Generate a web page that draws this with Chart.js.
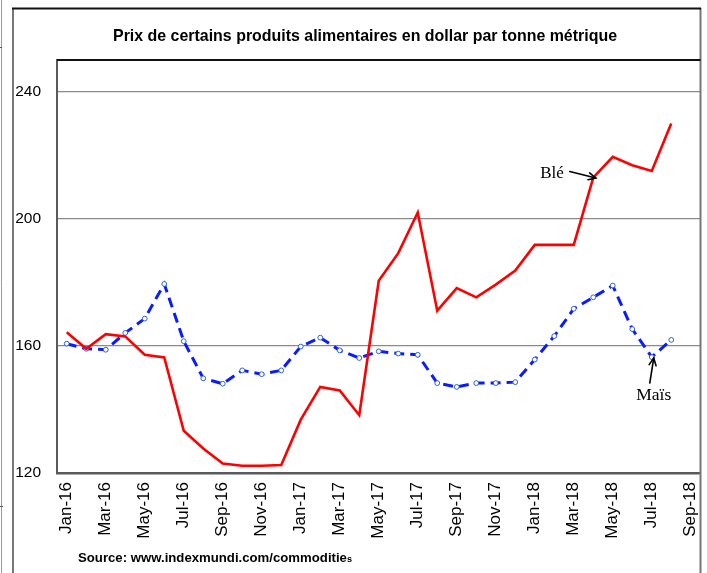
<!DOCTYPE html>
<html><head><meta charset="utf-8">
<script src="https://cdn.jsdelivr.net/npm/chart.js@4/dist/chart.umd.min.js"></script>
<style>html,body{margin:0;padding:0;background:#fff;overflow:hidden}#wrap{position:relative;width:707px;height:573px}canvas{display:block}</style>
</head><body><div id="wrap"><canvas id="c" width="707" height="573"></canvas></div>
<script>
// ---- data ----
const months = ["Jan-16","Feb-16","Mar-16","Apr-16","May-16","Jun-16","Jul-16","Aug-16","Sep-16","Oct-16","Nov-16","Dec-16",
  "Jan-17","Feb-17","Mar-17","Apr-17","May-17","Jun-17","Jul-17","Aug-17","Sep-17","Oct-17","Nov-17","Dec-17",
  "Jan-18","Feb-18","Mar-18","Apr-18","May-18","Jun-18","Jul-18","Aug-18","Sep-18"];
const ble = [164.3,159.1,163.7,163.0,157.2,156.4,133.3,127.7,123.0,122.3,122.3,122.5,
  136.8,147.1,146.0,138.2,180.5,189.2,202.0,171.1,178.2,175.3,179.3,183.7,
  191.8,191.8,191.8,213.0,219.5,216.9,215.1,230.0];
const mais = [160.7,159.1,158.8,164.1,168.6,179.5,161.5,149.8,148.1,152.3,151.1,152.3,
  159.8,162.6,158.6,156.2,158.3,157.6,157.2,148.3,147.1,148.3,148.3,148.6,
  155.7,163.1,171.7,175.3,179.0,165.3,156.5,161.9];
const yTicks = [120,160,200,240];
const titleText = "Prix de certains produits alimentaires en dollar par tonne métrique";
const sourceMain = "Source: www.indexmundi.com/commoditie";
const sourceTail = "s";
const labelBle = "Blé";
const labelMais = "Maïs";
const bleArrowIndex = 27;
const maisArrowIndex = 30;

function fitText(ctx, text, x, y, font, targetW, align){
  ctx.save();
  ctx.font = font;
  const w = ctx.measureText(text).width;
  const sx = targetW / w;
  ctx.translate(x, y);
  ctx.scale(sx, 1);
  ctx.textAlign = align; ctx.textBaseline = 'middle';
  ctx.fillText(text, 0, 0);
  ctx.restore();
}
function arrow(ctx, x0, y0, x1, y1){
  ctx.save();
  ctx.strokeStyle = '#000'; ctx.lineWidth = 1.6; ctx.lineCap = 'round';
  ctx.beginPath(); ctx.moveTo(x0,y0); ctx.lineTo(x1,y1); ctx.stroke();
  const a = Math.atan2(y1-y0, x1-x0), L = 8, s = 0.45;
  ctx.beginPath();
  ctx.moveTo(x1 - L*Math.cos(a-s), y1 - L*Math.sin(a-s));
  ctx.lineTo(x1, y1);
  ctx.lineTo(x1 - L*Math.cos(a+s), y1 - L*Math.sin(a+s));
  ctx.stroke();
  ctx.restore();
}

const decor = {
  id: 'decor',
  afterDraw(chart){
    const ctx = chart.ctx, ca = chart.chartArea;
    const xs = chart.scales.x, ys = chart.scales.y;
    ctx.save();
    // spreadsheet edge line
    ctx.strokeStyle = '#9a9a9a'; ctx.lineWidth = 1;
    ctx.beginPath(); ctx.moveTo(1.5,0); ctx.lineTo(1.5,573); ctx.stroke();
    ctx.strokeStyle = '#555';
    ctx.beginPath(); ctx.moveTo(0,47.5); ctx.lineTo(2,47.5); ctx.moveTo(0,506.5); ctx.lineTo(3,506.5); ctx.stroke();
    // outer frame
    ctx.strokeStyle = '#777'; ctx.lineWidth = 2;
    ctx.beginPath(); ctx.moveTo(13,8); ctx.lineTo(13,573); ctx.stroke();
    ctx.beginPath(); ctx.moveTo(700.5,8); ctx.lineTo(700.5,573); ctx.stroke();
    ctx.strokeStyle = '#111';
    ctx.beginPath(); ctx.moveTo(12,8.5); ctx.lineTo(701,8.5); ctx.stroke();
    // plot top border
    ctx.beginPath(); ctx.moveTo(ca.left,ca.top); ctx.lineTo(ca.right,ca.top); ctx.stroke();
    // title
    ctx.fillStyle = '#000';
    fitText(ctx, titleText, 365, 36, 'bold 17px "Liberation Sans Narrow", "Liberation Sans", sans-serif', 504, 'center');
    // source
    ctx.save();
    ctx.font = 'bold 13px "Liberation Sans Narrow", "Liberation Sans", sans-serif';
    const wm = ctx.measureText(sourceMain).width;
    ctx.font = 'bold 9px "Liberation Sans Narrow", "Liberation Sans", sans-serif';
    const wt = ctx.measureText(sourceTail).width;
    const sx = 274 / (wm + wt);
    ctx.translate(78, 557); ctx.scale(sx, 1);
    ctx.textAlign = 'left'; ctx.textBaseline = 'alphabetic';
    ctx.font = 'bold 13px "Liberation Sans Narrow", "Liberation Sans", sans-serif';
    ctx.fillText(sourceMain, 0, 4.5);
    ctx.font = 'bold 9px "Liberation Sans Narrow", "Liberation Sans", sans-serif';
    ctx.fillText(sourceTail, wm, 4.5);
    ctx.restore();
    // annotations
    const bx = xs.getPixelForValue(bleArrowIndex) + 2.5, by = ys.getPixelForValue(ble[bleArrowIndex]) + 0.5;
    arrow(ctx, bx - 26, by - 6.5, bx, by);
    ctx.fillStyle = '#000';
    ctx.font = '17px "Liberation Serif", "DejaVu Serif", serif';
    ctx.textAlign = 'right'; ctx.textBaseline = 'middle';
    ctx.fillText(labelBle, bx - 32, by - 5);
    const mx = xs.getPixelForValue(maisArrowIndex) + 2, my = ys.getPixelForValue(mais[maisArrowIndex]) + 1;
    arrow(ctx, mx - 4, my + 25, mx, my);
    ctx.font = '17.5px "Liberation Serif", "DejaVu Serif", serif';
    ctx.textAlign = 'center';
    ctx.fillText(labelMais, mx, my + 37);
    ctx.restore();
  }
};

new Chart(document.getElementById('c'), {
  type: 'line',
  data: {
    labels: months,
    datasets: [
      { label: labelBle, data: ble, borderColor: '#ff0000', borderWidth: 2.6, pointRadius: 0, tension: 0, fill: false },
      { label: labelMais, data: mais, borderColor: '#0a1cff', borderWidth: 3, borderDash: [10,6], tension: 0, fill: false,
        pointRadius: 2.4, pointBorderWidth: 1, pointBorderColor: '#2f62d9', pointBackgroundColor: '#ffffff', pointStyle: 'circle' }
    ]
  },
  options: {
    responsive: false, animation: false, devicePixelRatio: 1,
    layout: { padding: { left: 12, right: 6.5, top: 60, bottom: 0 } },
    plugins: { legend: { display: false }, tooltip: { enabled: false }, title: { display: false } },
    scales: {
      x: {
        type: 'category', offset: true,
        grid: { display: false, drawTicks: false },
        border: { display: true, color: '#5a5a5a', width: 2.5 },
        ticks: {
          autoSkip: false, maxRotation: 90, minRotation: 90, padding: 9,
          color: '#000', font: { family: '"Liberation Sans", Arial, sans-serif', size: 17 },
          callback: (v, i) => (i % 2 === 0 ? months[i] : '')
        },
        afterFit: (s) => { s.height = 100; s.paddingLeft = 0; s.paddingRight = 0; }
      },
      y: {
        min: 120, max: 250,
        afterBuildTicks: (axis) => { axis.ticks = yTicks.map(v => ({ value: v })); },
        grid: { color: '#8a8a8a', lineWidth: 1.2, drawTicks: false },
        border: { display: true, color: '#5a5a5a', width: 2 },
        ticks: { padding: 16, color: '#000', font: { family: '"Liberation Sans", Arial, sans-serif', size: 15.5 } },
        afterFit: (s) => { s.width = 45; s.paddingTop = 0; s.paddingBottom = 0; }
      }
    }
  },
  plugins: [decor]
});
</script>
</body></html>
